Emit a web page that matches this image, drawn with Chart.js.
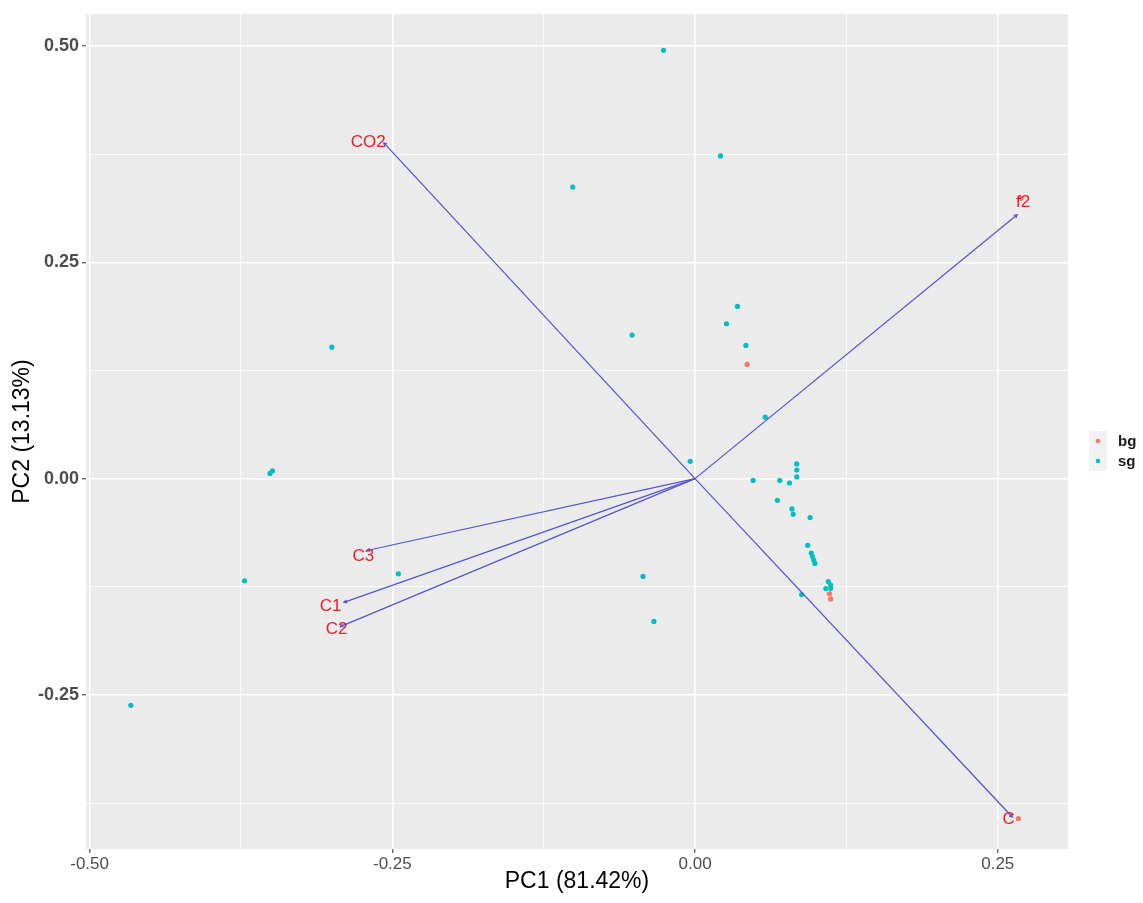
<!DOCTYPE html>
<html>
<head>
<meta charset="utf-8">
<title>PCA biplot</title>
<script src="https://cdn.jsdelivr.net/npm/chart.js@4"></script>
<style>
  body { margin: 0; background: #fff; }
  canvas { display: block; }
</style>
</head>
<body>
<canvas id="canvas" width="1143" height="903"></canvas>
<script>
// scores, group "sg"
const sgX = [-0.026, 0.021, -0.101, -0.300, -0.052, 0.035, 0.026, 0.042, 0.058, -0.004,
             0.084, 0.084, 0.084, 0.048, 0.070, 0.078, 0.068, 0.080, 0.081, 0.095,
             0.093, 0.096, 0.097, 0.098, 0.099, 0.110, 0.112, 0.108, 0.112, 0.088,
             -0.034, -0.043, -0.351, -0.349, -0.372, -0.245, -0.466];
const sgY = [0.495, 0.373, 0.337, 0.152, 0.166, 0.199, 0.179, 0.154, 0.071, 0.020,
             0.017, 0.010, 0.002, -0.002, -0.002, -0.005, -0.025, -0.035, -0.041, -0.045,
             -0.077, -0.086, -0.090, -0.094, -0.098, -0.119, -0.123, -0.127, -0.127, -0.134,
             -0.165, -0.113, 0.006, 0.009, -0.118, -0.110, -0.262];
// scores, group "bg"
const bgX = [0.043, 0.111, 0.112, 0.269, 0.267];
const bgY = [0.132, -0.133, -0.139, 0.324, -0.393];

// loadings (arrow ends) and where their names sit
const varNames = ["CO2", "f2", "C", "C3", "C1", "C2"];
const varX = [-0.257, 0.266, 0.262, -0.271, -0.290, -0.293];
const varY = [0.388, 0.305, -0.391, -0.083, -0.143, -0.171];
const labelX = [-0.270, 0.271, 0.259, -0.274, -0.301, -0.296];
const labelY = [0.389, 0.319, -0.394, -0.090, -0.147, -0.174];

const xTicks = [-0.5, -0.375, -0.25, -0.125, 0, 0.125, 0.25];
const yTicks = [-0.375, -0.25, -0.125, 0, 0.125, 0.25, 0.375, 0.5];
const groups = ["bg", "sg"];

const RED = "#F8766D";
const TEAL = "#00BFC4";
const ARROW = "rgb(84, 84, 210)";

function isMajor(v) {
    return Math.abs(v * 4 - Math.round(v * 4)) < 1e-9;
}

const arrowSets = varX.map((vx, i) => ({
    type: "line",
    label: varNames[i],
    data: [{ x: 0, y: 0 }, { x: vx, y: varY[i] }],
    borderColor: ARROW,
    borderWidth: 1.2,
    pointRadius: 0,
    fill: false,
    order: 0
}));

// panel background
const panelBg = {
    id: "panelBg",
    beforeDraw(chart) {
        const { ctx, chartArea: a } = chart;
        ctx.save();
        ctx.fillStyle = "#EBEBEB";
        ctx.fillRect(a.left, a.top, a.right - a.left, a.bottom - a.top);
        ctx.restore();
    }
};

// tiny arrow heads + red variable names
const varLabels = {
    id: "varLabels",
    afterDatasetsDraw(chart) {
        const { ctx } = chart;
        const xs = chart.scales.x, ys = chart.scales.y;
        const ox = xs.getPixelForValue(0), oy = ys.getPixelForValue(0);
        ctx.save();
        varX.forEach((vx, i) => {
            const ex = xs.getPixelForValue(vx), ey = ys.getPixelForValue(varY[i]);
            const ang = Math.atan2(ey - oy, ex - ox);
            ctx.strokeStyle = ARROW;
            ctx.lineWidth = 1.2;
            ctx.beginPath();
            ctx.moveTo(ex - 3.5 * Math.cos(ang - 0.5), ey - 3.5 * Math.sin(ang - 0.5));
            ctx.lineTo(ex, ey);
            ctx.lineTo(ex - 3.5 * Math.cos(ang + 0.5), ey - 3.5 * Math.sin(ang + 0.5));
            ctx.stroke();
        });
        ctx.fillStyle = "#E8202A";
        ctx.font = "17px 'Liberation Sans', Arial, sans-serif";
        ctx.textAlign = "center";
        ctx.textBaseline = "middle";
        varNames.forEach((name, i) => {
            ctx.fillText(name, xs.getPixelForValue(labelX[i]), ys.getPixelForValue(labelY[i]));
        });
        ctx.restore();
    }
};

// ggplot style legend on the right
const sideLegend = {
    id: "sideLegend",
    afterDraw(chart) {
        const { ctx } = chart;
        const colors = [RED, TEAL];
        ctx.save();
        groups.forEach((g, i) => {
            const cy = 441 + i * 20;
            ctx.fillStyle = "#F2F2F2";
            ctx.fillRect(1089, cy - 10, 18, 20);
            ctx.fillStyle = colors[i];
            ctx.beginPath();
            ctx.arc(1098, cy, 2.3, 0, Math.PI * 2);
            ctx.fill();
            ctx.fillStyle = "#1a1a1a";
            ctx.font = "bold 15px 'Liberation Sans', Arial, sans-serif";
            ctx.textBaseline = "middle";
            ctx.fillText(g, 1118, cy + 1);
        });
        ctx.restore();
    }
};

const ctx = document.getElementById("canvas").getContext("2d");

new Chart(ctx, {
    type: "scatter",
    data: {
        datasets: [
            ...arrowSets,
            {
                label: "bg",
                data: bgX.map((x, i) => ({ x: x, y: bgY[i] })),
                backgroundColor: RED,
                borderWidth: 0,
                pointRadius: 2.6,
                order: 1
            },
            {
                label: "sg",
                data: sgX.map((x, i) => ({ x: x, y: sgY[i] })),
                backgroundColor: TEAL,
                borderWidth: 0,
                pointRadius: 2.6,
                order: 2
            }
        ]
    },
    options: {
        responsive: false,
        animation: false,
        layout: { padding: { left: 0, right: 75, top: 14, bottom: 0 } },
        plugins: {
            legend: { display: false },
            tooltip: { enabled: false }
        },
        scales: {
            x: {
                type: "linear",
                min: -0.503,
                max: 0.308,
                afterBuildTicks: (scale) => { scale.ticks = xTicks.map(v => ({ value: v })); },
                afterFit: (scale) => { scale.height = 54; },
                border: { display: false },
                grid: {
                    color: "#FFFFFF",
                    lineWidth: (c) => isMajor(c.tick.value) ? 1.6 : 0.8,
                    tickColor: (c) => isMajor(c.tick.value) ? "#333333" : "rgba(0,0,0,0)",
                    tickLength: 4,
                    tickWidth: 1
                },
                ticks: {
                    autoSkip: false,
                    maxRotation: 0,
                    padding: 1,
                    color: "#4D4D4D",
                    font: { family: "'Liberation Sans', Arial, sans-serif", size: 17 },
                    callback: (v) => isMajor(v) ? v.toFixed(2) : ""
                },
                title: {
                    display: true,
                    text: "PC1 (81.42%)",
                    color: "#000000",
                    font: { family: "'Liberation Sans', Arial, sans-serif", size: 23 },
                    padding: { top: 0, bottom: 8 }
                }
            },
            y: {
                type: "linear",
                min: -0.428,
                max: 0.537,
                afterBuildTicks: (scale) => { scale.ticks = yTicks.map(v => ({ value: v })); },
                afterFit: (scale) => { scale.width = 86; },
                border: { display: false },
                grid: {
                    color: "#FFFFFF",
                    lineWidth: (c) => isMajor(c.tick.value) ? 1.6 : 0.8,
                    tickColor: (c) => isMajor(c.tick.value) ? "#333333" : "rgba(0,0,0,0)",
                    tickLength: 4,
                    tickWidth: 1
                },
                ticks: {
                    autoSkip: false,
                    padding: 3,
                    color: "#4D4D4D",
                    font: { family: "'Liberation Sans', Arial, sans-serif", size: 18, weight: "bold" },
                    callback: (v) => isMajor(v) ? v.toFixed(2) : ""
                },
                title: {
                    display: true,
                    text: "PC2 (13.13%)",
                    color: "#000000",
                    font: { family: "'Liberation Sans', Arial, sans-serif", size: 23 },
                    padding: { top: 9, bottom: 0 }
                }
            }
        }
    },
    plugins: [panelBg, varLabels, sideLegend]
});
</script>
</body>
</html>
